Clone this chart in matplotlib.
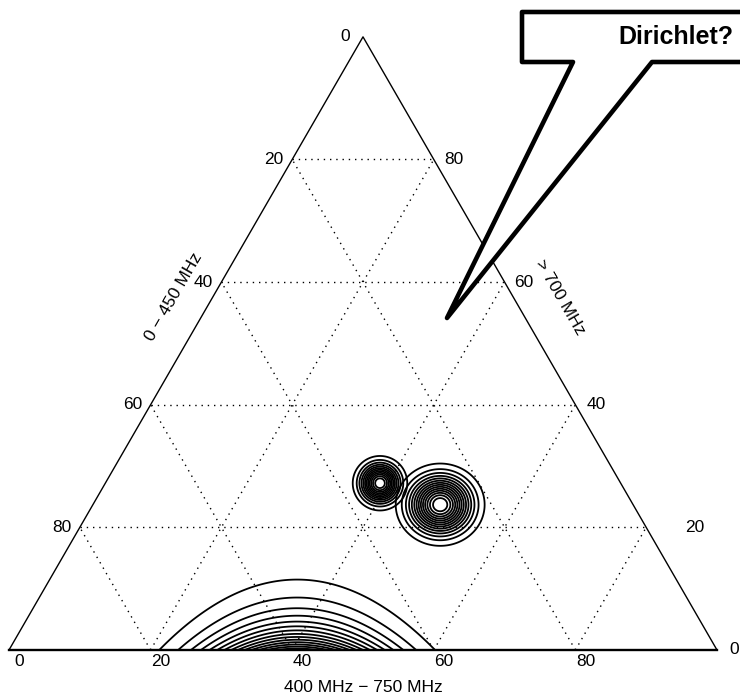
import numpy as np
import matplotlib
matplotlib.use('Agg')
from matplotlib import pyplot as plt
from matplotlib import patches as pts

plt.rcParams['font.family'] = ['Liberation Sans', 'DejaVu Sans']

# axis labelling
ticks = [0, 20, 40, 60, 80]
grid_at = [20, 40, 60, 80]
left_title = '0 \u2212 450 MHz'
right_title = '> 700 MHz'
bottom_title = '400 MHz \u2212 750 MHz'
callout_text = 'Dirichlet?'

# density bumps: centre across the base (%), centre up the triangle (% of height),
# spread across and up (% of base length). The first one sits on the base and
# falls off exponentially upwards.
bump_across = [40.7, 52.4, 60.9]
bump_up = [0.0, 27.2, 23.7]
bump_sx = [8.4, 1.7, 2.7]
bump_sy = [3.7, 1.7, 2.5]
# contour levels, as fraction of each bump's peak
levels_base = [0.068, 0.135, 0.203, 0.27, 0.338, 0.405, 0.473, 0.541, 0.608, 0.676,
               0.743, 0.811, 0.878, 0.946]
levels_small = [0.077, 0.154, 0.231, 0.308, 0.385, 0.462, 0.538, 0.615, 0.692, 0.769,
                0.846, 0.923]
levels_wide = [0.067, 0.133, 0.2, 0.267, 0.333, 0.4, 0.467, 0.533, 0.6, 0.667, 0.733,
               0.8, 0.867, 0.933]
bump_levels = [levels_base, levels_small, levels_wide]

H = np.sqrt(3)/2
px = 708.0  # pixels per unit of base length

fig = plt.figure(figsize=(7.4, 6.94), dpi=100)
ax = fig.add_axes([0, 0, 1, 1])
ax.set_xlim(-9/px, 731/px)
ax.set_ylim(-44/px, 650/px)
ax.axis('off')

# triangle
ax.plot([0, 0.5, 1], [0, H, 0], color='k', lw=1.0, zorder=3)
ax.plot([0, 1], [0, 0], color='k', lw=1.7, zorder=3)

# dotted grid
for g in grid_at:
    t = g/100
    ax.plot([t/2, 1-t/2], [t*H, t*H], color='k', lw=1.0, ls=(0, (1, 3.5)))
    ax.plot([t, (1+t)/2], [0, (1-t)*H], color='k', lw=1.0, ls=(0, (1, 3.5)))
    ax.plot([t, t/2], [0, t*H], color='k', lw=1.0, ls=(0, (1, 3.5)))

# tick labels
fs = 12.5
right_dx = [17, 49, 21, 19, 20]
for j, v in enumerate(ticks):
    t = v/100
    # left edge: 0 at the top
    ax.annotate(str(v), ((1-t)/2, (1-t)*H), xytext=(-18, 0), textcoords='offset pixels',
                ha='center', va='center', fontsize=fs)
    # right edge: 0 at the bottom right corner
    ax.annotate(str(v), (1-t/2, t*H), xytext=(right_dx[j], 0), textcoords='offset pixels',
                ha='center', va='center', fontsize=fs)
    # base: 0 at the left corner
    ax.annotate(str(v), (t, 0), xytext=(10, -12), textcoords='offset pixels',
                ha='center', va='center', fontsize=fs)

ax.text(165/px, (650-297)/px, left_title, rotation=60, ha='center', va='center', fontsize=fs)
ax.text(551/px, (650-297)/px, right_title, rotation=-60, ha='center', va='center', fontsize=fs)
ax.text(0.5, -37/px, bottom_title, ha='center', va='center', fontsize=fs)

# contours of the three bumps
xs = np.linspace(0.0, 1.0, 1400)
ys = np.unique(np.concatenate([np.linspace(0, 0.03, 300), np.linspace(0.03, 0.5, 900)]))
X, Y = np.meshgrid(xs, ys)
for i in range(len(bump_across)):
    cx = bump_across[i]/100
    cy = bump_up[i]/100*H
    sx = bump_sx[i]/100
    sy = bump_sy[i]/100
    if bump_up[i] == 0:
        Z = np.exp(-0.5*((X-cx)/sx)**2 - Y/sy)
    else:
        Z = np.exp(-0.5*((X-cx)/sx)**2 - 0.5*((Y-cy)/sy)**2)
    ax.contour(X, Y, Z, levels=bump_levels[i], colors='k', linewidths=1.3,
               linestyles='solid')

# speech bubble
def p(x, y):
    return ((x-9)/px, (650-y)/px)

bubble = [p(522, 12), p(760, 12), p(760, 62), p(652, 62), p(447, 318), p(573, 62), p(522, 62)]
ax.add_patch(pts.Polygon(bubble, closed=True, facecolor='white', edgecolor='k', lw=3.3,
                         joinstyle='round', zorder=5, clip_on=False))
ax.text(*p(676, 37), callout_text, ha='center', va='center', fontsize=18,
        fontweight='bold', zorder=6)

fig.savefig('out.png', dpi=100)
